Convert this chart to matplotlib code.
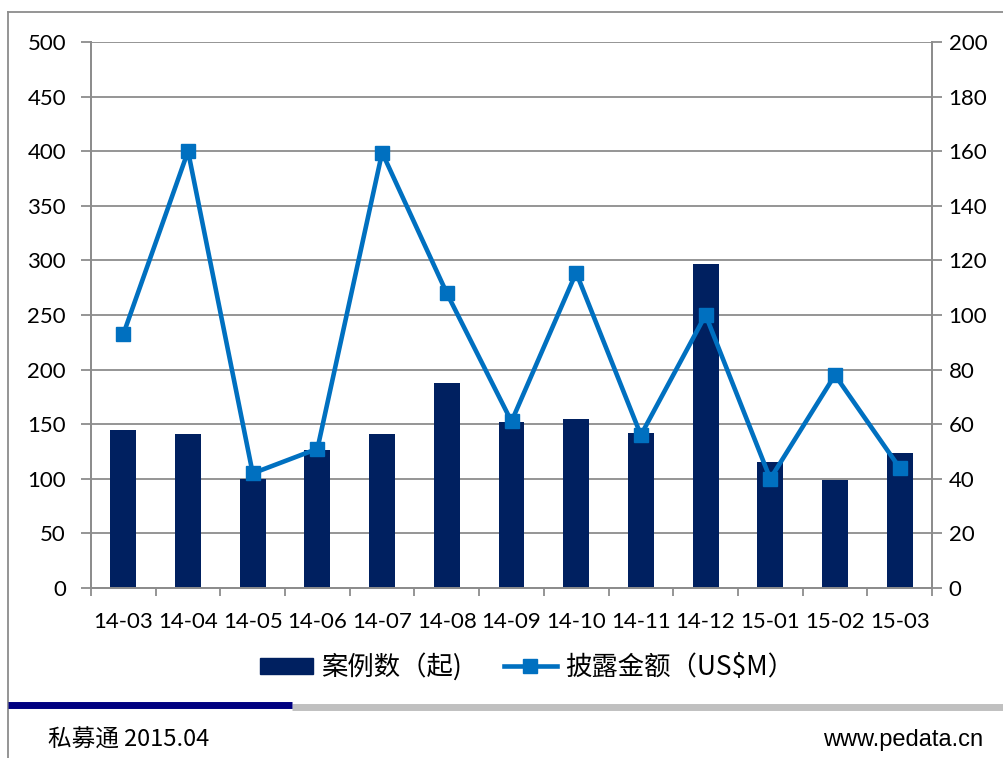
import matplotlib.pyplot as plt
import numpy as np
from matplotlib.lines import Line2D
from matplotlib.patches import Patch

# data
months = ['14-03', '14-04', '14-05', '14-06', '14-07', '14-08', '14-09',
          '14-10', '14-11', '14-12', '15-01', '15-02', '15-03']
cases = [145, 141, 100, 126, 141, 188, 152, 155, 142, 297, 115, 99, 124]
amount = [93, 160, 42, 51, 159.5, 108, 61, 115.5, 56, 100, 40, 78, 44]

bar_color = '#002060'
line_color = '#0070C0'
grid_color = '#8c8c8c'
tick_font = 'Lato'
cjk = ['Noto Sans CJK SC', 'DejaVu Sans']

fig = plt.figure(figsize=(10.04, 7.58), dpi=100)
ax = fig.add_axes([91 / 1004, 1 - 588 / 758, 841 / 1004, 546 / 758])
ax2 = ax.twinx()

x = np.arange(len(months))
ax.bar(x, cases, width=0.4, color=bar_color, zorder=2)
ax.set_xlim(-0.5, len(months) - 0.5)
ax.set_ylim(0, 500)
ax.set_yticks(range(0, 501, 50))
ax.grid(axis='y', color=grid_color, lw=1.3, zorder=0)
ax.set_axisbelow(True)

ax2.plot(x, amount, color=line_color, lw=3.3, marker='s', markersize=10.5, zorder=3)
ax2.set_ylim(0, 200)
ax2.set_yticks(range(0, 201, 20))

# category ticks at the boundaries, labels in between
ax.set_xticks(np.arange(-0.5, len(months), 1))
ax.set_xticklabels([])
ax.set_xticks(x, minor=True)
ax.set_xticklabels(months, minor=True, fontsize=16, family=tick_font)
ax.tick_params(axis='x', which='minor', length=0, pad=17)
ax.tick_params(axis='x', which='major', length=6, width=1.3, color=grid_color)
ax.tick_params(axis='y', length=7, width=1.3, color=grid_color, labelsize=16, pad=11)
ax2.tick_params(axis='y', length=7, width=1.3, color=grid_color, labelsize=16, pad=5)
for lab in ax.get_yticklabels() + ax2.get_yticklabels():
    lab.set_family(tick_font)

for a in (ax, ax2):
    a.spines['top'].set_visible(False)
    for side in ('left', 'right', 'bottom'):
        a.spines[side].set_color(grid_color)
        a.spines[side].set_linewidth(1.3)

# legend
handles = [Patch(color=bar_color),
           Line2D([], [], color=line_color, lw=3.3, marker='s', markersize=10.5)]
labels = ['案例数（起)', '披露金额（US$M）']
fig.legend(handles, labels, loc='center', bbox_to_anchor=(527 / 1004, 1 - 667 / 758),
           ncol=2, frameon=False, handlelength=2.0, handleheight=0.55, handletextpad=0.3,
           columnspacing=1.6, prop={'family': cjk, 'size': 19})

# outer frame and footer bars
fig.add_artist(Line2D([8 / 1004, 1], [1 - 12 / 758] * 2, color='#8c8c8c', lw=1.3))
fig.add_artist(Line2D([8 / 1004] * 2, [0, 1 - 12 / 758], color='#8c8c8c', lw=1.3))
fig.add_artist(Line2D([292 / 1004, 1], [1 - 707 / 758] * 2, color='#c0c0c0', lw=5, solid_capstyle='butt'))
fig.add_artist(Line2D([8 / 1004, 292 / 1004], [1 - 705 / 758] * 2, color='#000080', lw=5, solid_capstyle='butt'))

fig.text(48 / 1004, 1 - 740 / 758, '私募通 2015.04', fontsize=17, va='center', family=cjk)
fig.text(983 / 1004, 1 - 740 / 758, 'www.pedata.cn', fontsize=17, va='center', ha='right',
         family='Liberation Sans')

fig.savefig('out.png', dpi=100)
